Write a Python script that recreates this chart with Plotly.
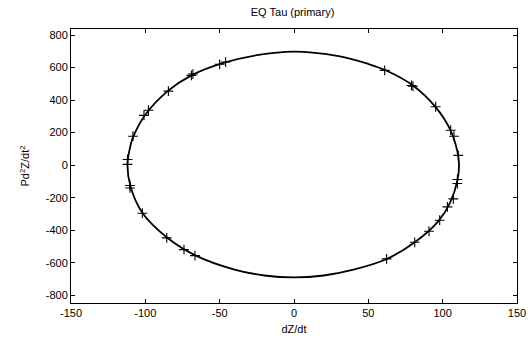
import plotly.graph_objects as go

# Fitted curve
curve_x = [0, 30, 50, 62, 80, 95, 105, 110, 111, 110, 105, 97, 81, 62, 40, 20, 0,
           -20, -40, -66, -85, -102, -110, -112, -110, -108, -100, -85, -69, -48, -25, 0]
curve_y = [698, 670, 622, 582, 490, 360, 220, 80, 0, -90, -230, -345, -475, -578, -642, -678, -690,
           -678, -642, -556, -448, -293, -130, 0, 120, 178, 310, 455, 552, 627, 676, 698]

# Observed points (+ markers)
obs_x = [-112, -112, -108.3, -100.9, -97.9, -84.5, -69, -68, -50, -46,
         -110.3, -110.3, -102, -85.6, -74, -66.6,
         61, 79, 80, 95.3, 105.4, 107.6, 110.5,
         109.9, 109.9, 107.2, 103.2, 98, 90.8, 81.2, 62.3]
obs_y = [35, 5, 178, 306, 338, 455, 552, 560, 620, 634,
         -125, -140, -295, -447, -519, -556,
         583, 490, 485, 359, 215, 178, 60,
         -88, -113, -207, -256, -338, -406, -474, -576]

xticks = [-150, -100, -50, 0, 50, 100, 150]
yticks = [-800, -600, -400, -200, 0, 200, 400, 600, 800]

font = "Liberation Sans, Arial, sans-serif"

fig = go.Figure()
fig.add_trace(go.Scatter(x=curve_x, y=curve_y, mode="lines",
                         line=dict(color="black", width=1.8, shape="spline", smoothing=1.0),
                         hoverinfo="skip", showlegend=False))
fig.add_trace(go.Scatter(x=obs_x, y=obs_y, mode="markers",
                         marker=dict(symbol="cross-thin", size=7, color="black",
                                     line=dict(color="black", width=1.1)),
                         showlegend=False))

axis_common = dict(showgrid=False, zeroline=False, showline=True, linecolor="black",
                   linewidth=1, mirror="ticks", ticks="inside", ticklen=4, automargin=False,
                   tickcolor="black", tickfont=dict(family=font, size=11, color="black"))

fig.update_layout(
    width=530, height=342,
    margin=dict(l=71, r=13, t=29, b=39),
    paper_bgcolor="white", plot_bgcolor="white",
    font=dict(family=font, size=11, color="black"),
    xaxis=dict(range=[-150, 150], tickvals=xticks, ticktext=[str(v) for v in xticks],
               title=dict(text="dZ/dt", font=dict(family=font, size=11, color="black"), standoff=7),
               **axis_common),
    yaxis=dict(range=[-847, 837], tickvals=yticks, ticktext=[str(v) for v in yticks],
               title=dict(text="Pd<sup>2</sup>Z/dt<sup>2</sup>", font=dict(family=font, size=11, color="black"), standoff=13),
               **axis_common),
    title=dict(text="EQ Tau (primary)", x=0.552, xanchor="center", y=0.965, yanchor="middle",
               font=dict(family=font, size=11, color="black")),
)

fig.write_html("out.html", config={"displayModeBar": False},
               post_script="document.body.style.margin='0';")
